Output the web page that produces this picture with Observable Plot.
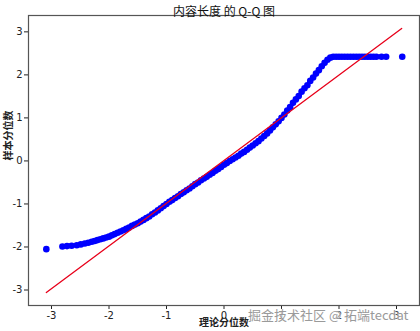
<!DOCTYPE html>
<html><head><meta charset="utf-8">
<script src="https://cdn.jsdelivr.net/npm/d3@7"></script>
<script src="https://cdn.jsdelivr.net/npm/@observablehq/plot@0.6"></script>
<style>
body{margin:0;background:#fff}
#c{position:relative;width:420px;height:331px;overflow:hidden}
#wm{position:absolute;left:248px;top:305px;font:13px "Noto Sans CJK SC";color:#9a9a9a;white-space:nowrap;text-shadow:0 0 2px #fff,0 0 2px #fff}
</style></head>
<body><div id="c"><div id="wm">掘金技术社区 @ 拓端tecdat</div></div>
<script>
const title = "内容长度 的 Q-Q 图";
const xLabel = "理论分位数";
const yLabel = "样本分位数";
const xTicks = [-3, -2, -1, 0, 1, 2, 3];
const yTicks = [-3, -2, -1, 0, 1, 2, 3];
// theoretical quantiles (x) and ordered sample values (y)
const theoretical = [
 -3.09, -2.81, -2.73, -2.65, -2.56, -2.49, -2.42, -2.36, -2.30, -2.25, -2.20, -2.15, -2.10, -2.05, -2.00,
 -1.95, -1.90, -1.85, -1.80, -1.75, -1.70, -1.65, -1.60, -1.55, -1.50, -1.45, -1.40, -1.35, -1.30,
 -1.25, -1.20, -1.15, -1.10, -1.05, -1.00, -0.95, -0.90, -0.85, -0.80, -0.75, -0.70, -0.65, -0.60,
 -0.55, -0.50, -0.45, -0.40, -0.35, -0.30, -0.25, -0.20, -0.15, -0.10, -0.05, 0.00, 0.05, 0.10,
 0.15, 0.20, 0.25, 0.30, 0.35, 0.40, 0.45, 0.50, 0.55, 0.60, 0.65, 0.70, 0.75, 0.80, 0.85, 0.90,
 0.95, 1.00, 1.05, 1.10, 1.15, 1.20, 1.25, 1.30, 1.35, 1.40, 1.45, 1.50, 1.55, 1.60, 1.65, 1.70,
 1.75, 1.80, 1.85, 1.90, 1.95, 2.00, 2.05, 2.10, 2.15, 2.20, 2.25, 2.30, 2.35, 2.40, 2.45, 2.50,
 2.55, 2.60, 2.65, 2.74, 2.82, 3.10
];
const sample = [
 -2.05, -1.99, -1.98, -1.97, -1.96, -1.94, -1.92, -1.90, -1.88, -1.86, -1.84, -1.82, -1.80, -1.78, -1.76,
 -1.73, -1.70, -1.67, -1.64, -1.61, -1.58, -1.55, -1.51, -1.48, -1.45, -1.41, -1.37, -1.33, -1.29,
 -1.24, -1.20, -1.15, -1.10, -1.05, -1.00, -0.95, -0.91, -0.86, -0.82, -0.77, -0.73, -0.68, -0.64,
 -0.59, -0.54, -0.50, -0.45, -0.41, -0.37, -0.32, -0.28, -0.23, -0.19, -0.14, -0.09, -0.05, 0.00,
 0.04, 0.08, 0.12, 0.17, 0.21, 0.26, 0.31, 0.36, 0.41, 0.46, 0.52, 0.58, 0.64, 0.71, 0.78, 0.85,
 0.92, 1.00, 1.08, 1.17, 1.25, 1.35, 1.43, 1.51, 1.61, 1.69, 1.76, 1.86, 1.94, 2.03, 2.11, 2.20,
 2.28, 2.35, 2.40, 2.42, 2.42, 2.42, 2.42, 2.42, 2.42, 2.42, 2.42, 2.42, 2.42, 2.42, 2.42, 2.42,
 2.42, 2.42, 2.42, 2.42, 2.42, 2.42
];
const fitX = [-3.09, 3.09];
const fitY = [-3.06, 3.08];

const points = theoretical.map((t, i) => ({t, s: sample[i]}));
const fit = fitX.map((t, i) => ({t, s: fitY[i]}));
const fmt = d => String(d);

const chart = Plot.plot({
  width: 420, height: 331,
  marginLeft: 28, marginRight: 1, marginTop: 15, marginBottom: 26,
  style: {fontFamily: "'DejaVu Sans', sans-serif", fontSize: "10px", color: "#222", background: "#fff"},
  x: {domain: [-3.4, 3.4], ticks: xTicks, tickSize: 4, tickPadding: 2, tickFormat: fmt, label: null},
  y: {domain: [-3.36, 3.38], ticks: yTicks, tickSize: 4, tickPadding: 2, tickFormat: fmt, label: null},
  marks: [
    Plot.dot(points, {x: "t", y: "s", r: 3.3, fill: "#0000ff", stroke: "none"}),
    Plot.line(fit, {x: "t", y: "s", stroke: "#e8001a", strokeWidth: 1.3}),
    Plot.frame({stroke: "#555", strokeWidth: 1.2}),
    Plot.text([title], {frameAnchor: "top", dy: -8, text: d => d, fontSize: 12, fontFamily: "'Noto Sans CJK SC'", fill: "#111"}),
    Plot.text([xLabel], {frameAnchor: "bottom", dy: 20, text: d => d, fontSize: 10, fontWeight: "bold", fontFamily: "'Noto Sans CJK SC'", fill: "#222"}),
    Plot.text([yLabel], {frameAnchor: "left", dx: -20, rotate: -90, text: d => d, fontSize: 10, fontWeight: "bold", fontFamily: "'Noto Sans CJK SC'", fill: "#222"})
  ]
});
document.getElementById("c").prepend(chart);
</script>
</body></html>
